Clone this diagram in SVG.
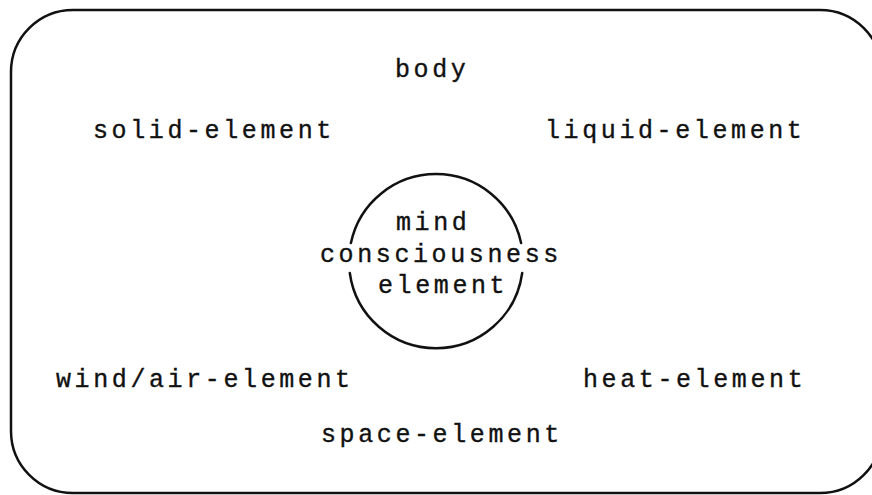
<svg xmlns="http://www.w3.org/2000/svg" width="872" height="495" viewBox="0 0 872 495">
<style>
.t{font-family:"Liberation Mono","DejaVu Sans Mono",monospace;font-size:25px;letter-spacing:3.6px;fill:#111;stroke:#111;stroke-width:0.35}
.ln{fill:none;stroke:#111;stroke-width:2.5;stroke-linecap:round}
</style>
<rect width="872" height="495" fill="#fff"/>
<g id="frame"><rect class="ln" x="11" y="10" width="871" height="483" rx="62" ry="62"/></g>
<g id="connectors"></g>
<g id="body"><text class="t" x="395" y="77">body</text></g>
<g id="solid"><text class="t" x="93" y="138">solid-element</text></g>
<g id="liquid"><text class="t" x="545" y="138">liquid-element</text></g>
<g id="mind">
<path class="ln" d="M350.9,243 A87,87 0 0 1 521.1,243"/>
<path class="ln" d="M522.2,273 A87,87 0 0 1 349.8,273"/>
<text class="t" x="396" y="230">mind</text>
<text class="t" x="320" y="262">consciousness</text>
<text class="t" x="378" y="293">element</text>
</g>
<g id="wind"><text class="t" x="56" y="387">wind/air-element</text></g>
<g id="heat"><text class="t" x="583" y="387">heat-element</text></g>
<g id="space"><text class="t" x="321" y="442">space-element</text></g>
</svg>
